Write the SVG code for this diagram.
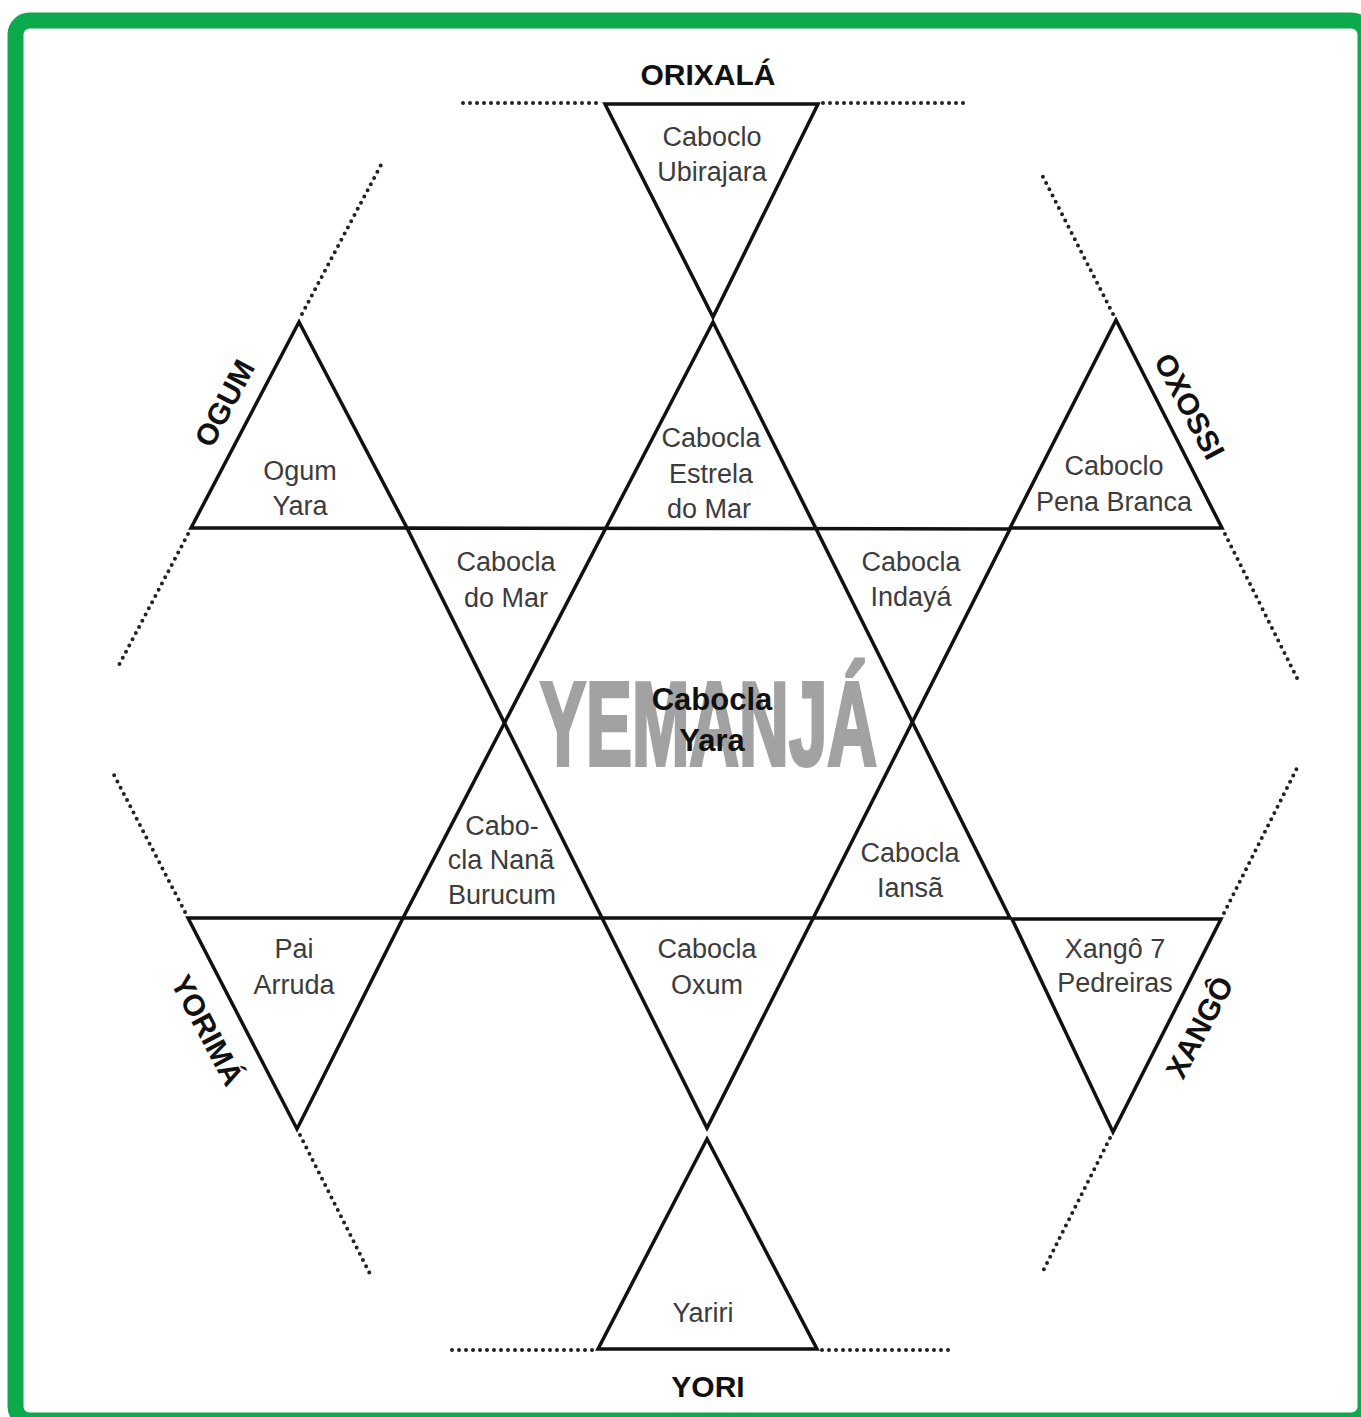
<svg xmlns="http://www.w3.org/2000/svg" width="1361" height="1417" viewBox="0 0 1361 1417">
<style>
.tri{fill:none;stroke:#111;stroke-width:3.5;stroke-linejoin:miter}
.dot{fill:none;stroke:#222;stroke-width:4;stroke-linecap:round;stroke-dasharray:0 7}
.lbl{font-family:"Liberation Sans",Arial,sans-serif;font-size:27px;fill:#3c3c3c;text-anchor:middle}
.head{font-family:"Liberation Sans",Arial,sans-serif;font-size:30px;font-weight:bold;fill:#111;text-anchor:middle}
.center{font-family:"Liberation Sans",Arial,sans-serif;font-size:31px;font-weight:bold;fill:#111;text-anchor:middle}
.water{font-family:"Liberation Sans",Arial,sans-serif;font-size:118px;font-weight:bold;fill:#a2a2a2;stroke:#a2a2a2;stroke-width:4}
</style>
<rect x="0" y="0" width="1361" height="1417" fill="#fff"/>
<rect x="15.5" y="20.5" width="1350" height="1400" rx="14" fill="none" stroke="#0caa4c" stroke-width="16"/>

<text class="water" x="540" y="765" textLength="337" lengthAdjust="spacingAndGlyphs">YEMANJÁ</text>

<g id="connectors">
<line class="dot" x1="463" y1="103" x2="601" y2="103"/>
<line class="dot" x1="823" y1="103" x2="965" y2="103"/>
<line class="dot" x1="452" y1="1350" x2="594" y2="1350"/>
<line class="dot" x1="822" y1="1350" x2="952" y2="1350"/>
<line class="dot" x1="302" y1="314" x2="381" y2="165"/>
<line class="dot" x1="188" y1="534" x2="119" y2="665"/>
<line class="dot" x1="1113" y1="314" x2="1042" y2="175"/>
<line class="dot" x1="1225" y1="534" x2="1298" y2="680"/>
<line class="dot" x1="185" y1="912" x2="113" y2="773"/>
<line class="dot" x1="300" y1="1135" x2="372" y2="1278"/>
<line class="dot" x1="1224" y1="913" x2="1297" y2="768"/>
<line class="dot" x1="1110" y1="1138" x2="1041" y2="1275"/>
</g>

<g id="node-orixala">
<polygon class="tri" points="605,104 818,104 713,317"/>
<text class="lbl" x="712" y="146">Caboclo</text>
<text class="lbl" x="712" y="181">Ubirajara</text>
</g>

<g id="node-hexagram-up">
<polygon class="tri" points="713,322 403,918 1010,918"/>
</g>
<g id="node-hexagram-down">
<polygon class="tri" points="407,528 1010,529 707,1128"/>
</g>

<g id="node-estrela">
<text class="lbl" x="711" y="447">Cabocla</text>
<text class="lbl" x="711" y="483">Estrela</text>
<text class="lbl" x="709" y="518">do Mar</text>
</g>

<g id="node-ogum">
<polygon class="tri" points="299,322 191,528 407,528"/>
<text class="lbl" x="300" y="480">Ogum</text>
<text class="lbl" x="300" y="515">Yara</text>
</g>

<g id="node-oxossi">
<polygon class="tri" points="1116,320 1010,528 1222,528"/>
<text class="lbl" x="1114" y="475">Caboclo</text>
<text class="lbl" x="1114" y="511">Pena Branca</text>
</g>

<g id="node-domar">
<text class="lbl" x="506" y="571">Cabocla</text>
<text class="lbl" x="506" y="607">do Mar</text>
</g>

<g id="node-indaya">
<text class="lbl" x="911" y="571">Cabocla</text>
<text class="lbl" x="911" y="606">Indayá</text>
</g>

<g id="node-yara">
<text class="center" x="712" y="710">Cabocla</text>
<text class="center" x="712" y="751">Yara</text>
</g>

<g id="node-nana">
<text class="lbl" x="502" y="835">Cabo-</text>
<text class="lbl" x="501" y="869">cla Nanã</text>
<text class="lbl" x="502" y="904">Burucum</text>
</g>

<g id="node-iansa">
<text class="lbl" x="910" y="862">Cabocla</text>
<text class="lbl" x="910" y="897">Iansã</text>
</g>

<g id="node-oxum">
<text class="lbl" x="707" y="958">Cabocla</text>
<text class="lbl" x="707" y="994">Oxum</text>
</g>

<g id="node-yorima">
<polygon class="tri" points="188,918 403,918 297,1129"/>
<text class="lbl" x="294" y="958">Pai</text>
<text class="lbl" x="294" y="994">Arruda</text>
</g>

<g id="node-xango">
<polygon class="tri" points="1012,919 1221,919 1113,1132"/>
<text class="lbl" x="1115" y="958">Xangô 7</text>
<text class="lbl" x="1115" y="992">Pedreiras</text>
</g>

<g id="node-yori">
<polygon class="tri" points="707,1139 598,1349 817,1349"/>
<text class="lbl" x="703" y="1322">Yariri</text>
</g>

<g id="labels">
<text class="head" x="708" y="85">ORIXALÁ</text>
<text class="head" x="708" y="1397">YORI</text>
<text class="head" transform="translate(224,403) rotate(-62)" x="0" y="11">OGUM</text>
<text class="head" transform="translate(1190,406) rotate(62)" x="0" y="11">OXOSSI</text>
<text class="head" transform="translate(208,1030) rotate(62)" x="0" y="11">YORIMÁ</text>
<text class="head" transform="translate(1199,1027) rotate(-62)" x="0" y="11">XANGÔ</text>
</g>
</svg>
